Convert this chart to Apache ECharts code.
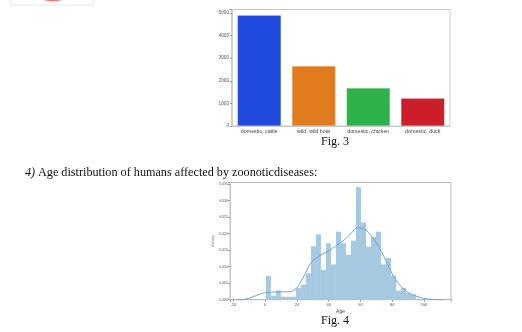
<!DOCTYPE html>
<html>
<head>
<meta charset="utf-8">
<script src="https://cdn.jsdelivr.net/npm/echarts@6/dist/echarts.min.js"></script>
<style>
  html, body { margin: 0; padding: 0; background: #ffffff; }
  #page { width: 522px; height: 332px; }
</style>
</head>
<body>
<div id="page"></div>
<script>
// Fig. 3 — counts of outbreaks by animal host
const hostCategories = ['domestic, cattle', 'wild, wild boar', 'domestic, chicken', 'domestic, duck'];
const hostCounts = [4900, 2650, 1680, 1230];
const hostColors = ['#2049dd', '#e07c1e', '#2db249', '#cc1e28'];
const countTicks = [0, 1000, 2000, 3000, 4000, 5000];

// Fig. 4 — age histogram (density) of affected humans, with its KDE curve
const ageBinStart = 0.5;
const ageBinWidth = 3.15;
const ageDensity = [
  0.0072, 0.0012, 0.0028, 0.0009, 0.0009, 0.0009, 0.0036, 0.0046, 0.0080, 0.0162,
  0.0198, 0.0090, 0.0171, 0.0107, 0.0206, 0.0171, 0.0136, 0.0179, 0.0341, 0.0234,
  0.0161, 0.0190, 0.0206, 0.0107, 0.0126, 0.0073, 0.0027, 0.0036, 0.0020, 0.0016
];
const kdeAges =    [-18, -12, -6, 0, 4, 9, 15, 19.5, 24, 29, 35, 40, 45, 50, 54, 58, 62, 66, 70, 74, 78, 82, 86, 90, 94, 100, 106, 112];
const kdeDensity = [0.0000, 0.0002, 0.0012, 0.0021, 0.0023, 0.0024, 0.0024, 0.0034, 0.0068, 0.0112, 0.0135, 0.0148, 0.0165, 0.0182, 0.0200, 0.0218, 0.0215, 0.0198, 0.0172, 0.0138, 0.0098, 0.0062, 0.0038, 0.0022, 0.0013, 0.0004, 0.0001, 0.0000];
const ageTicks = [-20, 0, 20, 40, 60, 80, 100];

const serif = '"Liberation Serif", "DejaVu Serif", serif';
const sans = '"Liberation Sans", "DejaVu Sans", sans-serif';

const histData = ageDensity.map((d, i) => [ageBinStart + i * ageBinWidth, ageBinStart + (i + 1) * ageBinWidth, d]);

const chart = echarts.init(document.getElementById('page'), null, { renderer: 'canvas' });

const thinAxisLabel = (size) => ({ fontFamily: sans, fontSize: size, color: '#555' });

chart.setOption({
  animation: false,
  backgroundColor: '#ffffff',
  grid: [
    { left: 232, top: 9.5, width: 218, height: 116.5, show: true, borderColor: '#c8c8c8', borderWidth: 1 },
    { left: 230, top: 182.5, width: 221, height: 117.2, show: true, borderColor: '#b8b8b8', borderWidth: 1 }
  ],
  xAxis: [
    {
      gridIndex: 0, type: 'category', data: hostCategories,
      axisLine: { onZero: false, lineStyle: { color: '#c8c8c8', width: 1 } },
      axisTick: { show: false },
      axisLabel: Object.assign(thinAxisLabel(5.3), { margin: 3, color: '#444', interval: 0, hideOverlap: false })
    },
    {
      gridIndex: 1, type: 'value', min: -22.1, max: 117, splitNumber: 7,
      name: 'Age', nameLocation: 'middle', nameGap: 9,
      nameTextStyle: { fontFamily: sans, fontSize: 5, color: '#444' },
      axisLine: { onZero: false, lineStyle: { color: '#b8b8b8' } },
      axisTick: { length: 2, lineStyle: { color: '#999' } },
      splitLine: { show: false },
      axisLabel: Object.assign(thinAxisLabel(4), {
        margin: 3,
        formatter: v => ageTicks.includes(Math.round(v * 1000) / 1000) ? String(v) : ''
      })
    }
  ],
  yAxis: [
    {
      gridIndex: 0, type: 'value', min: 0, max: 5150, interval: 1000,
      axisLine: { show: true, onZero: false, lineStyle: { color: '#c8c8c8', width: 1.5 } },
      axisTick: { show: true, length: 2, lineStyle: { color: '#999' } },
      splitLine: { show: false },
      axisLabel: Object.assign(thinAxisLabel(4.7), {
        margin: 3,
        formatter: v => countTicks.includes(v) ? String(v) : ''
      })
    },
    {
      gridIndex: 1, type: 'value', min: 0, max: 0.0355, interval: 0.005,
      name: 'Density', nameLocation: 'middle', nameGap: 12, nameRotate: 90,
      nameTextStyle: { fontFamily: sans, fontSize: 3.5, color: '#666' },
      axisLine: { show: true, onZero: false, lineStyle: { color: '#c8c8c8' } },
      axisTick: { show: true, length: 2, lineStyle: { color: '#999' } },
      splitLine: { show: false },
      axisLabel: Object.assign(thinAxisLabel(3.5), {
        margin: 2,
        formatter: v => (Math.abs(v * 200 - Math.round(v * 200)) < 1e-6) ? v.toFixed(3) : ''
      })
    }
  ],
  series: [
    {
      type: 'bar', xAxisIndex: 0, yAxisIndex: 0, barWidth: '80%',
      data: hostCounts.map((v, i) => ({ value: v, itemStyle: { color: hostColors[i] } })),
      itemStyle: { borderColor: 'rgba(255,255,255,0.35)', borderWidth: 0.5 }
    },
    {
      type: 'custom', xAxisIndex: 1, yAxisIndex: 1,
      data: histData,
      encode: { x: [0, 1], y: 2 },
      renderItem: (params, api) => {
        const p0 = api.coord([api.value(0), api.value(2)]);
        const p1 = api.coord([api.value(1), 0]);
        return {
          type: 'rect',
          shape: { x: p0[0], y: p0[1], width: p1[0] - p0[0], height: p1[1] - p0[1] },
          style: { fill: '#a6c9e2' }
        };
      },
      z: 2
    },
    {
      type: 'line', xAxisIndex: 1, yAxisIndex: 1, smooth: 0.4, symbol: 'none',
      data: kdeAges.map((a, i) => [a, kdeDensity[i]]),
      lineStyle: { color: '#6aa3d4', width: 1 },
      z: 3
    }
  ],
  graphic: [
    // lower edge of the preceding figure's frame and its pie
    { type: 'circle', shape: { cx: 52.7, cy: -30, r: 31.5 }, style: { fill: '#f27d7d' }, z: 1 },
    { type: 'rect', shape: { x: 11, y: -5, width: 82, height: 10 }, style: { fill: 'none', stroke: '#e8e8e8', lineWidth: 1 }, z: 2 },
    { type: 'text', style: { text: 'Fig. 3', x: 335, y: 141.7, align: 'center', verticalAlign: 'middle', font: '12px ' + serif, fill: '#111' } },
    { type: 'text', style: { text: '4)', x: 25, y: 172.7, verticalAlign: 'middle', font: 'italic 12.2px ' + serif, fill: '#111' } },
    { type: 'text', style: { text: 'Age distribution of humans affected by zoonoticdiseases:', x: 38, y: 172.7, verticalAlign: 'middle', font: '12.2px ' + serif, fill: '#111' } },
    { type: 'text', style: { text: 'Fig. 4', x: 335, y: 321, align: 'center', verticalAlign: 'middle', font: '12px ' + serif, fill: '#111' } }
  ]
});
</script>
</body>
</html>
